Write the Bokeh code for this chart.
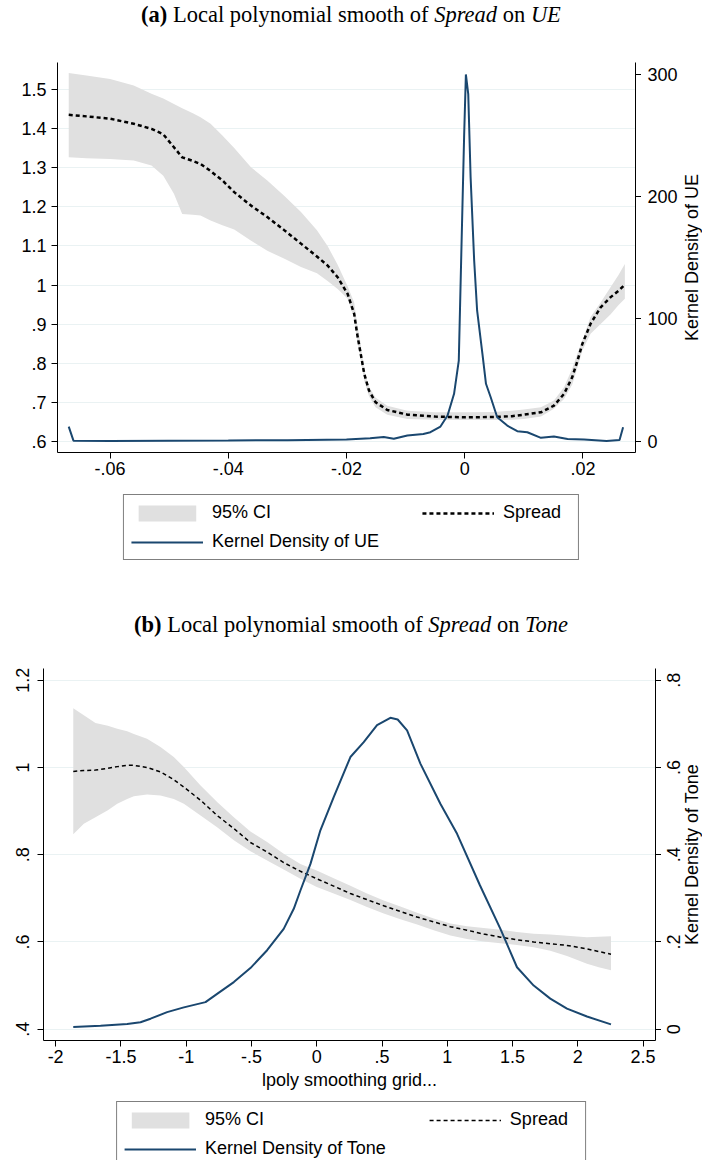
import math
from bokeh.plotting import figure
from bokeh.models import Range1d, LinearAxis, FixedTicker, Legend, LegendItem, Div
from bokeh.layouts import column, row
from bokeh.core.properties import value
from bokeh.embed import file_html
from bokeh.resources import INLINE

# ---------------- Panel (a): Spread on UE ----------------
ue_grid = [-0.0670, -0.0640, -0.0600, -0.0560, -0.0530, -0.0510, -0.0492, -0.0478, -0.0460,
           -0.0447, -0.0430, -0.0410, -0.0390, -0.0362, -0.0334, -0.0305, -0.0277, -0.0250,
           -0.0232, -0.0215, -0.0198, -0.0187, -0.0182, -0.0176, -0.0170, -0.0162, -0.0151,
           -0.0131, -0.0097, -0.0050, 0.0000, 0.0050, 0.0080, 0.0100, 0.0129, 0.0151, 0.0168,
           0.0182, 0.0191, 0.0199, 0.0213, 0.0230, 0.0247, 0.0260, 0.0271]
spread_a = [1.436, 1.432, 1.426, 1.413, 1.400, 1.386, 1.353, 1.327, 1.318,
            1.310, 1.292, 1.268, 1.238, 1.204, 1.174, 1.140, 1.106, 1.073,
            1.050, 1.020, 0.977, 0.926, 0.875, 0.824, 0.773, 0.730, 0.700,
            0.680, 0.668, 0.663, 0.661, 0.662, 0.664, 0.668, 0.674, 0.691, 0.721,
            0.764, 0.807, 0.849, 0.901, 0.943, 0.969, 0.985, 1.001]
ci_hi_a = [1.543, 1.537, 1.528, 1.511, 1.490, 1.478, 1.464, 1.453, 1.440,
           1.430, 1.413, 1.383, 1.351, 1.302, 1.268, 1.228, 1.187, 1.140,
           1.100, 1.052, 0.996, 0.955, 0.901, 0.850, 0.781, 0.740, 0.712,
           0.691, 0.678, 0.674, 0.674, 0.675, 0.678, 0.681, 0.687, 0.704, 0.738,
           0.786, 0.825, 0.858, 0.918, 0.955, 0.995, 1.025, 1.054]
ci_lo_a = [1.327, 1.325, 1.323, 1.319, 1.306, 1.280, 1.234, 1.182, 1.180,
           1.178, 1.165, 1.153, 1.142, 1.114, 1.088, 1.067, 1.046, 1.030,
           1.010, 0.990, 0.965, 0.915, 0.858, 0.810, 0.755, 0.715, 0.687,
           0.668, 0.657, 0.655, 0.654, 0.654, 0.655, 0.657, 0.663, 0.683, 0.708,
           0.745, 0.790, 0.832, 0.875, 0.900, 0.925, 0.948, 0.965]
kd_ue_x = [-0.0670, -0.0662, -0.0600, -0.0500, -0.0400, -0.0300, -0.0200, -0.0160, -0.0137,
           -0.0120, -0.0097, -0.0070, -0.0058, -0.0041, -0.0029, -0.0018, -0.0010, -0.0006,
           -0.0001, 0.0002, 0.0006, 0.0010, 0.0016, 0.0021, 0.0030, 0.0036, 0.0044, 0.0055,
           0.0072, 0.0089, 0.0106, 0.0129, 0.0151, 0.0174, 0.0202, 0.0240, 0.0262, 0.0268]
kd_ue_y = [12.0, 0.5, 0.3, 0.5, 0.6, 0.9, 1.5, 2.5, 3.5,
           2.0, 4.7, 6.0, 7.4, 12.0, 21.0, 38.8, 66.0, 148.0,
           249.0, 300.0, 284.0, 216.0, 148.0, 107.0, 71.5, 47.0, 36.0, 19.6,
           12.8, 8.2, 7.4, 2.8, 3.8, 1.9, 1.4, 0.3, 1.1, 11.5]
xticks_a = [-0.06, -0.04, -0.02, 0.0, 0.02]
xlabels_a = ["-.06", "-.04", "-.02", "0", ".02"]
yticks_a = [0.6, 0.7, 0.8, 0.9, 1.0, 1.1, 1.2, 1.3, 1.4, 1.5]
ylabels_a = [".6", ".7", ".8", ".9", "1", "1.1", "1.2", "1.3", "1.4", "1.5"]
rticks_a = [0, 100, 200, 300]
rlabels_a = ["0", "100", "200", "300"]

# ---------------- Panel (b): Spread on Tone ----------------
tone_grid = [-1.865, -1.784, -1.695, -1.600, -1.528, -1.452, -1.401, -1.300, -1.197, -1.095,
             -1.018, -0.890, -0.763, -0.635, -0.508, -0.380, -0.253, -0.125, 0.000, 0.130,
             0.258, 0.385, 0.513, 0.641, 0.769, 0.896, 1.024, 1.151, 1.279, 1.407, 1.534,
             1.662, 1.789, 1.917, 2.070, 2.160, 2.254]
spread_b = [0.991, 0.993, 0.994, 0.998, 1.002, 1.005, 1.005, 1.000, 0.990, 0.972,
            0.955, 0.925, 0.890, 0.860, 0.828, 0.806, 0.782, 0.762, 0.745, 0.728,
            0.711, 0.697, 0.683, 0.670, 0.657, 0.646, 0.635, 0.627, 0.618, 0.611, 0.605,
            0.600, 0.596, 0.592, 0.584, 0.578, 0.572]
ci_hi_b = [1.136, 1.120, 1.102, 1.096, 1.089, 1.083, 1.077, 1.066, 1.047, 1.024,
           1.001, 0.959, 0.921, 0.886, 0.853, 0.829, 0.802, 0.779, 0.764, 0.746,
           0.729, 0.711, 0.695, 0.681, 0.667, 0.654, 0.642, 0.636, 0.632, 0.628, 0.623,
           0.619, 0.617, 0.614, 0.611, 0.612, 0.613]
ci_lo_b = [0.847, 0.871, 0.886, 0.902, 0.917, 0.928, 0.934, 0.938, 0.936, 0.928,
           0.917, 0.890, 0.863, 0.833, 0.808, 0.787, 0.766, 0.745, 0.726, 0.711,
           0.696, 0.680, 0.665, 0.652, 0.640, 0.627, 0.615, 0.607, 0.601, 0.597, 0.593,
           0.588, 0.580, 0.568, 0.550, 0.542, 0.535]
kd_tone_x = [-1.865, -1.656, -1.452, -1.350, -1.273, -1.146, -1.018, -0.852, -0.763, -0.635,
             -0.508, -0.380, -0.253, -0.176, -0.125, -0.048, 0.028, 0.130, 0.258, 0.360,
             0.462, 0.564, 0.620, 0.692, 0.794, 0.947, 1.075, 1.250, 1.407, 1.534, 1.662,
             1.789, 1.917, 2.070, 2.254]
kd_tone_y = [0.005, 0.008, 0.012, 0.016, 0.024, 0.039, 0.050, 0.062, 0.081, 0.108,
             0.140, 0.181, 0.230, 0.276, 0.318, 0.379, 0.456, 0.532, 0.624, 0.658,
             0.697, 0.714, 0.710, 0.685, 0.609, 0.517, 0.448, 0.330, 0.230, 0.142, 0.100,
             0.070, 0.047, 0.029, 0.011]
xticks_b = [-2, -1.5, -1, -0.5, 0, 0.5, 1, 1.5, 2, 2.5]
xlabels_b = ["-2", "-1.5", "-1", "-.5", "0", ".5", "1", "1.5", "2", "2.5"]
yticks_b = [0.4, 0.6, 0.8, 1.0, 1.2]
ylabels_b = [".4", ".6", ".8", "1", "1.2"]
rticks_b = [0, 0.2, 0.4, 0.6, 0.8]
rlabels_b = ["0", ".2", ".4", ".6", ".8"]

legend_labels_a = ["95% CI", "Spread", "Kernel Density of UE"]
legend_labels_b = ["95% CI", "Spread", "Kernel Density of Tone"]

NAVY = "#1a476f"
CIGREY = "#e0e0e0"
GRID = "#eaf2f3"
FONT = "Liberation Sans"
FS = "18px"
NB = "\u00a0"


def style_axis(ax, ticks, labels, standoff, orient=None):
    ax.ticker = FixedTicker(ticks=ticks)
    ax.major_label_overrides = {t: l for t, l in zip(ticks, labels)}
    ax.axis_line_color = "black"
    ax.axis_line_width = 1
    ax.major_tick_line_color = "black"
    ax.major_tick_out = 6
    ax.major_tick_in = 0
    ax.minor_tick_line_color = None
    ax.major_label_text_font = FONT
    ax.major_label_text_font_size = FS
    ax.major_label_text_color = "black"
    ax.major_label_standoff = standoff
    ax.axis_label_text_font = FONT
    ax.axis_label_text_font_style = "normal"
    ax.axis_label_text_font_size = FS
    ax.axis_label_text_color = "black"
    if orient is not None:
        ax.major_label_orientation = orient


def add_series(p, xg, sp, lo, hi, kx, ky, sp_width):
    ci = p.varea(x=xg, y1=lo, y2=hi, fill_color=CIGREY, fill_alpha=1)
    spl = p.line(x=xg, y=sp, line_color="black", line_width=sp_width, line_dash="4 3")
    kdl = p.line(x=kx, y=ky, line_color=NAVY, line_width=2, y_range_name="kd")
    return ci, spl, kdl


def base_fig(width, height, xr, yr, rr, mbt, mbb, mbl, mbr):
    p = figure(width=width, height=height, x_range=Range1d(*xr), y_range=Range1d(*yr),
               output_backend="svg", toolbar_location=None,
               min_border_top=mbt, min_border_bottom=mbb,
               min_border_left=mbl, min_border_right=mbr, margin=0)
    p.extra_y_ranges = {"kd": Range1d(*rr)}
    p.outline_line_color = None
    p.background_fill_color = "white"
    p.border_fill_color = "white"
    p.xgrid.visible = False
    return p


def right_ticks_only(p, ticks):
    rax = LinearAxis(y_range_name="kd")
    style_axis(rax, ticks, ["" for _ in ticks], 0)
    rax.major_label_text_color = None
    p.add_layout(rax, "right")


def label_strip(p, width, height, mbt, mbb, ticks, labels, title,
                tick_x, tick_align, tick_angle, title_x):
    kr = p.extra_y_ranges["kd"]
    s = figure(width=width, height=height, x_range=Range1d(0, width), y_range=kr,
               output_backend="svg", toolbar_location=None,
               x_axis_location=None, y_axis_location=None,
               min_border_top=mbt, min_border_bottom=mbb,
               min_border_left=0, min_border_right=0, margin=0)
    s.outline_line_color = None
    s.grid.visible = False
    s.text(x=[tick_x] * len(ticks), y=ticks, text=labels, angle=tick_angle,
           text_align=tick_align, text_baseline="middle", text_font=value(FONT),
           text_font_size=value(FS), text_color="black")
    s.text(x=[title_x], y=[(kr.start + kr.end) / 2], text=[title], angle=math.pi / 2,
           text_align="center", text_baseline="middle", text_font=value(FONT),
           text_font_size=value(FS), text_color="black")
    return s


# ---------- figure (a) ----------
p1 = base_fig(641, 434, (-0.0689, 0.0289), (0.571, 1.570), (-9.2, 309.8), 14, 30, 57, 6)
p1.ygrid.ticker = FixedTicker(ticks=yticks_a)
p1.ygrid.grid_line_color = GRID
style_axis(p1.xaxis[0], xticks_a, xlabels_a, 3)
style_axis(p1.yaxis[0], yticks_a, ylabels_a, 5)
right_ticks_only(p1, rticks_a)
add_series(p1, ue_grid, spread_a, ci_lo_a, ci_hi_a, kd_ue_x, kd_ue_y, 2.5)
s1 = label_strip(p1, 61, 434, 14, 30, rticks_a, rlabels_a, legend_labels_a[2],
                 6, "left", 0, 50)

# ---------- figure (b) ----------
p2 = base_fig(661, 446, (-2.093, 2.595), (0.374, 1.227), (-0.026, 0.827), 18, 56, 43, 6)
p2.ygrid.ticker = FixedTicker(ticks=yticks_b)
p2.ygrid.grid_line_color = GRID
style_axis(p2.xaxis[0], xticks_b, xlabels_b, 3)
p2.xaxis[0].axis_label = "lpoly smoothing grid..."
p2.xaxis[0].axis_label_standoff = 4
style_axis(p2.yaxis[0], yticks_b, ylabels_b, 8, "vertical")
right_ticks_only(p2, rticks_b)
add_series(p2, tone_grid, spread_b, ci_lo_b, ci_hi_b, kd_tone_x, kd_tone_y, 1.5)
s2 = label_strip(p2, 41, 446, 18, 56, rticks_b, rlabels_b, legend_labels_b[2],
                 12, "center", math.pi / 2, 30)


def legend_fig(height, labels, series, sp_width, margin, pad, kd_pad, sp_pad):
    q = figure(width=702, height=height, x_range=Range1d(100, 101), y_range=Range1d(100, 101),
               output_backend="svg", toolbar_location=None,
               x_axis_location=None, y_axis_location=None,
               min_border=0, margin=0)
    q.outline_line_color = None
    q.grid.visible = False
    q.extra_y_ranges = {"kd": Range1d(100, 101)}
    ci, spl, kdl = add_series(q, *series, sp_width)
    leg = Legend(items=[LegendItem(label=labels[0], renderers=[ci]),
                        LegendItem(label=labels[2] + NB * kd_pad, renderers=[kdl]),
                        LegendItem(label=labels[1] + NB * sp_pad, renderers=[spl])],
                 ncols=2, location="top_center")
    leg.glyph_width = 72
    leg.glyph_height = 20
    leg.label_height = 20
    leg.label_standoff = 9
    leg.spacing = 8
    leg.padding = pad
    leg.margin = margin
    leg.border_line_color = "black"
    leg.border_line_width = 1
    leg.label_text_font = FONT
    leg.label_text_font_size = FS
    leg.label_text_color = "black"
    leg.background_fill_color = "white"
    leg.background_fill_alpha = 1
    q.add_layout(leg, "center")
    return q


l1 = legend_fig(118, legend_labels_a,
                (ue_grid, spread_a, ci_lo_a, ci_hi_a, kd_ue_x, kd_ue_y), 2.5, 12, 7, 7, 2)
l2 = legend_fig(64, legend_labels_b,
                (tone_grid, spread_b, ci_lo_b, ci_hi_b, kd_tone_x, kd_tone_y), 1.5, 5, 7, 7, 2)


def title_div(label, y_name, x_name, height, pad):
    html = ('<div style="width:702px;height:%dpx;padding-top:%dpx;box-sizing:border-box;'
            'text-align:center;font-family:\'Liberation Serif\';font-size:22.5px;'
            'line-height:24px;color:black;white-space:nowrap;">'
            '<b>%s</b> Local polynomial smooth of <i>%s</i> on <i>%s</i></div>'
            % (height, pad, label, y_name, x_name))
    return Div(text=html, width=702, height=height, margin=0)


d1 = title_div("(a)", "Spread", "UE", 48, 3)
d2 = title_div("(b)", "Spread", "Tone", 50, 13)

layout = column(d1, row(p1, s1, spacing=0, margin=0), l1, d2,
                row(p2, s2, spacing=0, margin=0), l2, spacing=0, margin=0)
open("out.html", "w").write(file_html(layout, INLINE))
